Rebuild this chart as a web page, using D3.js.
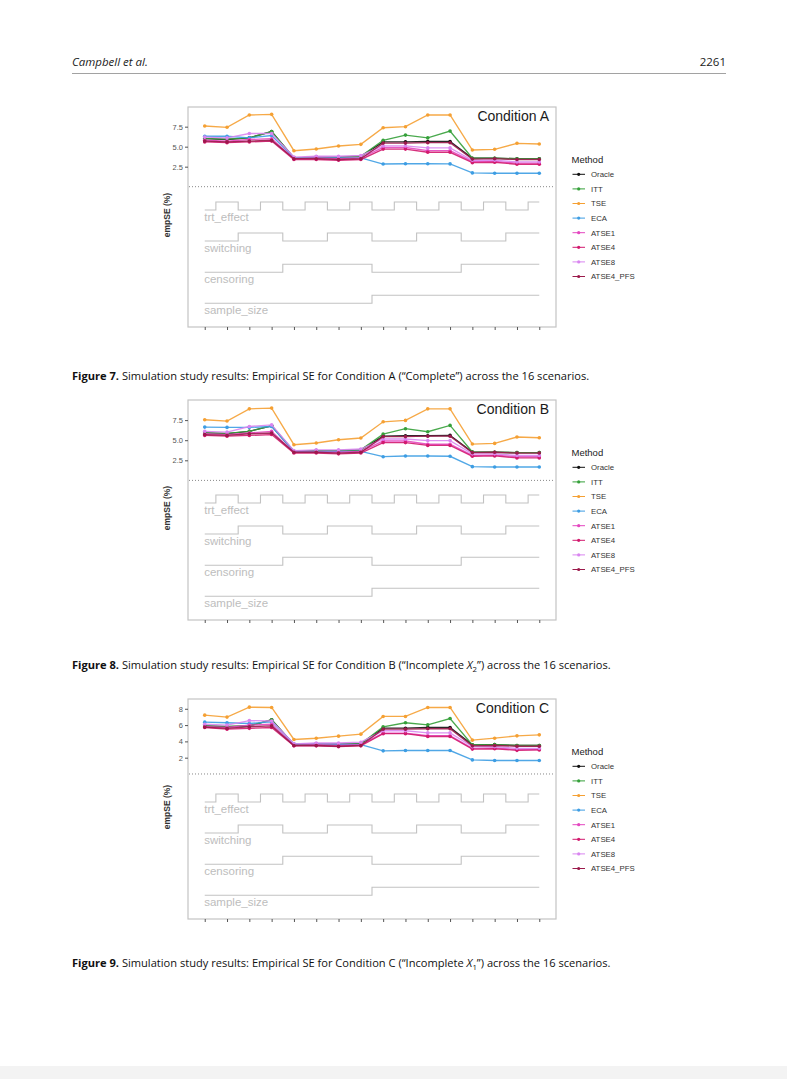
<!DOCTYPE html>
<html><head><meta charset="utf-8">
<script src="https://cdn.jsdelivr.net/npm/d3@7"></script>
<style>html,body{margin:0;padding:0;background:#fff;}svg{display:block;}</style>
</head><body>
<script>
// ---------- data ----------
const scenarios = d3.range(1, 17);
const methods = ["Oracle", "ITT", "TSE", "ECA", "ATSE1", "ATSE4", "ATSE8", "ATSE4_PFS"];
const methodColors = ["#111111", "#35a03a", "#f5a033", "#3d9de3", "#e447c0", "#d21a6e", "#d985f0", "#9b1a4b"];

// design parameters (0 = low level, 1 = high level)
const paramNames = ["trt_effect", "switching", "censoring", "sample_size"];
const trtEffect  = [0,1,0,1,0,1,0,1,0,1,0,1,0,1,0,1];
const switching  = [0,0,1,1,0,0,1,1,0,0,1,1,0,0,1,1];
const censoring  = [0,0,0,0,1,1,1,1,0,0,0,0,1,1,1,1];
const sampleSize = [0,0,0,0,0,0,0,0,1,1,1,1,1,1,1,1];

// Condition A (Complete)
const A_Oracle   = [6.0,5.9,6.1,6.9,3.6,3.7,3.7,3.8,5.6,5.6,5.65,5.65,3.55,3.55,3.5,3.5];
const A_ITT      = [6.0,5.95,6.1,6.9,3.6,3.7,3.7,3.8,5.8,6.45,6.1,6.95,3.55,3.55,3.5,3.5];
const A_TSE      = [7.58,7.42,8.96,9.04,4.5,4.71,5.08,5.29,7.37,7.5,8.96,8.96,4.58,4.67,5.42,5.33];
const A_ECA      = [6.3,6.3,6.1,6.4,3.6,3.6,3.6,3.6,2.83,2.87,2.87,2.85,1.72,1.68,1.68,1.68];
const A_ATSE1    = [5.8,5.7,5.9,6.0,3.5,3.6,3.5,3.6,4.9,4.9,4.5,4.5,3.15,3.15,2.95,2.95];
const A_ATSE4    = [5.6,5.5,5.6,5.7,3.4,3.4,3.3,3.4,4.7,4.7,4.3,4.3,3.0,3.05,2.8,2.8];
const A_ATSE8    = [6.2,6.1,6.65,6.65,3.7,3.8,3.8,3.9,5.1,5.1,4.85,4.85,3.3,3.3,3.1,3.1];
const A_ATSE4PFS = [5.7,5.6,5.7,5.8,3.5,3.5,3.4,3.5,5.45,5.45,5.5,5.5,3.45,3.5,3.4,3.4];

// Condition B (Incomplete X2)
const B_Oracle   = [5.9,5.8,6.1,6.8,3.6,3.7,3.7,3.8,5.5,5.55,5.55,5.6,3.53,3.5,3.45,3.45];
const B_ITT      = [5.9,5.85,6.1,6.8,3.6,3.7,3.7,3.8,5.76,6.43,6.05,6.84,3.53,3.5,3.45,3.45];
const B_TSE      = [7.54,7.38,8.9,8.99,4.44,4.65,5.06,5.27,7.29,7.46,8.9,8.9,4.52,4.6,5.4,5.31];
const B_ECA      = [6.63,6.59,6.59,6.7,3.6,3.6,3.6,3.6,2.95,3.04,3.04,3.0,1.71,1.67,1.67,1.67];
const B_ATSE1    = [5.8,5.7,5.9,6.1,3.5,3.5,3.5,3.6,4.9,4.9,4.5,4.5,3.1,3.15,2.95,2.95];
const B_ATSE4    = [5.6,5.5,5.6,5.7,3.4,3.4,3.3,3.4,4.7,4.7,4.35,4.35,3.0,3.05,2.8,2.8];
const B_ATSE8    = [6.1,6.0,6.7,6.9,3.7,3.8,3.8,3.9,5.15,5.15,4.95,4.95,3.3,3.3,3.1,3.1];
const B_ATSE4PFS = [5.7,5.6,5.8,5.9,3.5,3.5,3.4,3.5,5.45,5.45,5.5,5.5,3.45,3.5,3.4,3.4];

// Condition C (Incomplete X1)
const C_Oracle   = [5.9,5.8,5.9,6.65,3.6,3.7,3.7,3.7,5.62,5.62,5.7,5.7,3.57,3.6,3.5,3.5];
const C_ITT      = [5.9,5.85,5.9,6.65,3.6,3.7,3.7,3.7,5.79,6.28,6.03,6.81,3.57,3.6,3.5,3.5];
const C_TSE      = [7.22,6.98,8.2,8.16,4.23,4.39,4.64,4.89,7.06,7.06,8.16,8.16,4.15,4.39,4.68,4.8];
const C_ECA      = [6.36,6.28,6.2,6.4,3.7,3.7,3.65,3.6,2.84,2.88,2.88,2.88,1.73,1.65,1.65,1.65];
const C_ATSE1    = [5.8,5.7,6.0,6.1,3.5,3.6,3.5,3.6,5.0,5.0,4.7,4.7,3.15,3.2,3.0,3.0];
const C_ATSE4    = [5.7,5.5,5.6,5.7,3.45,3.45,3.35,3.45,4.95,4.95,4.6,4.6,3.05,3.1,2.9,2.95];
const C_ATSE8    = [6.1,6.0,6.55,6.5,3.7,3.8,3.8,3.9,5.3,5.3,5.05,5.05,3.35,3.35,3.15,3.15];
const C_ATSE4PFS = [5.75,5.6,5.8,5.9,3.5,3.5,3.4,3.5,5.5,5.5,5.55,5.55,3.45,3.5,3.4,3.4];

const yTicksA = [2.5, 5.0, 7.5];
const yTicksB = [2.5, 5.0, 7.5];
const yTicksC = [2, 4, 6, 8];

const figures = [
  {cond:"Condition A", num:"7", series:[A_Oracle,A_ITT,A_TSE,A_ECA,A_ATSE1,A_ATSE4,A_ATSE8,A_ATSE4PFS], ticks:yTicksA, fmt:d3.format(".1f"), top:107, ymax:9.96, ppu:8.0, capY:380},
  {cond:"Condition B", num:"8", series:[B_Oracle,B_ITT,B_TSE,B_ECA,B_ATSE1,B_ATSE4,B_ATSE8,B_ATSE4PFS], ticks:yTicksB, fmt:d3.format(".1f"), top:400, ymax:10.0, ppu:8.04, capY:669},
  {cond:"Condition C", num:"9", series:[C_Oracle,C_ITT,C_TSE,C_ECA,C_ATSE1,C_ATSE4,C_ATSE8,C_ATSE4PFS], ticks:yTicksC, fmt:d3.format("d"), top:699, ymax:9.2, ppu:8.15, capY:967}
];

// ---------- drawing ----------
const W = 787, H = 1079;
const svg = d3.select("body").append("svg").attr("width", W).attr("height", H);
svg.append("rect").attr("width", W).attr("height", H).attr("fill", "#fff");
svg.append("rect").attr("x", 0).attr("y", 1066).attr("width", W).attr("height", 13).attr("fill", "#f3f3f3");

const pageFont = "'Open Sans', Lato, sans-serif";
const chartFont = "'Liberation Sans', Arial, sans-serif";

// header
svg.append("text").attr("x", 72).attr("y", 66).attr("font-family", pageFont).attr("font-style", "italic")
  .attr("font-size", 11.5).attr("fill", "#222").text("Campbell et al.");
svg.append("text").attr("x", 726).attr("y", 66).attr("text-anchor", "end").attr("font-family", pageFont)
  .attr("font-size", 11.5).attr("fill", "#222").text("2261");
svg.append("line").attr("x1", 72).attr("x2", 726).attr("y1", 73.5).attr("y2", 73.5).attr("stroke", "#8a8a8a").attr("stroke-width", 0.8);

const panelLeft = 188, panelRight = 556, panelH = 220;
const x = d3.scaleLinear().domain([0.25, 16.75]).range([panelLeft, panelRight]);
const params = [trtEffect, switching, censoring, sampleSize];
// pixel offsets (from panel top) of the low level of each parameter step
const stepLowOffset = [103, 134, 165.3, 196.3];
const stepHeight = 8;

figures.forEach(f => {
  const top = f.top, bottom = top + panelH;
  const y = d3.scaleLinear().domain([f.ymax - panelH / f.ppu, f.ymax]).range([bottom, top]);
  const g = svg.append("g");

  // panel border
  g.append("rect").attr("x", panelLeft).attr("y", top).attr("width", panelRight - panelLeft).attr("height", panelH)
    .attr("fill", "none").attr("stroke", "#c4c4c4").attr("stroke-width", 1.2);

  // y axis
  const yAxis = d3.axisLeft(y).tickValues(f.ticks).tickFormat(f.fmt).tickSize(3).tickPadding(2);
  const ya = g.append("g").attr("transform", `translate(${panelLeft},0)`).call(yAxis);
  ya.select(".domain").remove();
  ya.selectAll("line").attr("stroke", "#555");
  ya.selectAll("text").attr("font-family", chartFont).attr("font-size", 7.5).attr("fill", "#555");

  // x axis ticks only
  const xAxis = d3.axisBottom(x).tickValues(scenarios).tickFormat("").tickSize(3);
  const xa = g.append("g").attr("transform", `translate(0,${bottom})`).call(xAxis);
  xa.select(".domain").remove();
  xa.selectAll("line").attr("stroke", "#555");

  // y title
  g.append("text").attr("transform", `translate(170,${top + panelH / 2 - 2}) rotate(-90)`)
    .attr("text-anchor", "middle").attr("font-family", chartFont).attr("font-weight", "bold")
    .attr("font-size", 8.5).attr("fill", "#333").text("empSE (%)");

  // dotted zero line
  g.append("line").attr("x1", panelLeft + 1).attr("x2", panelRight - 1).attr("y1", y(0)).attr("y2", y(0))
    .attr("stroke", "#7a7a7a").attr("stroke-width", 0.9).attr("stroke-dasharray", "1,2");

  // parameter steps
  params.forEach((p, k) => {
    const sy = d3.scaleLinear().domain([0, 1]).range([top + stepLowOffset[k], top + stepLowOffset[k] - stepHeight]);
    const line = d3.line().x((d, i) => x(scenarios[i])).y(d => sy(d)).curve(d3.curveStep);
    g.append("path").attr("d", line(p)).attr("fill", "none").attr("stroke", "#c2c2c2").attr("stroke-width", 1.1);
    g.append("text").attr("x", x(1) - 0.5).attr("y", sy(0) + 10.5).attr("font-family", chartFont)
      .attr("font-size", 11.5).attr("fill", "#bdbdbd").text(paramNames[k]);
  });

  // method lines & points
  const line = d3.line().x((d, i) => x(scenarios[i])).y(d => y(d));
  f.series.forEach((s, m) => {
    g.append("path").attr("d", line(s)).attr("fill", "none").attr("stroke", methodColors[m])
      .attr("stroke-width", 1.35).attr("stroke-opacity", 0.9);
    g.selectAll(null).data(s).enter().append("circle")
      .attr("cx", (d, i) => x(scenarios[i])).attr("cy", d => y(d)).attr("r", 1.8)
      .attr("fill", methodColors[m]);
  });

  // condition label
  g.append("text").attr("x", 549).attr("y", top + 14).attr("text-anchor", "end")
    .attr("font-family", chartFont).attr("font-size", 14).attr("fill", "#1a1a1a").text(f.cond);

  // legend
  const lg = g.append("g");
  lg.append("text").attr("x", 571.5).attr("y", top + 55.5).attr("font-family", chartFont)
    .attr("font-size", 9.5).attr("fill", "#222").text("Method");
  methods.forEach((mname, i) => {
    const cy = top + 67.3 + i * 14.6;
    lg.append("line").attr("x1", 572.5).attr("x2", 585).attr("y1", cy).attr("y2", cy)
      .attr("stroke", methodColors[i]).attr("stroke-width", 1);
    lg.append("circle").attr("cx", 578.7).attr("cy", cy).attr("r", 1.6).attr("fill", methodColors[i]);
    lg.append("text").attr("x", 591).attr("y", cy + 2.8).attr("font-family", chartFont)
      .attr("font-size", 7.8).attr("fill", "#333").text(mname);
  });

  // caption
  const cap = svg.append("text").attr("x", 72).attr("y", f.capY).attr("font-family", pageFont)
    .attr("font-size", 11.1).attr("fill", "#111");
  cap.append("tspan").attr("font-weight", "bold").text(`Figure  ${f.num}.`);
  if (f.num === "7") {
    cap.append("tspan").text("  Simulation study results: Empirical SE for Condition A (\u201CComplete\u201D) across the 16 scenarios.");
  } else {
    const letter = f.num === "8" ? "B" : "C";
    const sub = f.num === "8" ? "2" : "1";
    cap.append("tspan").text(`  Simulation study results: Empirical SE for Condition ${letter} (\u201CIncomplete `);
    cap.append("tspan").attr("font-style", "italic").text("X");
    cap.append("tspan").attr("font-size", 7.8).attr("dy", 3).text(sub);
    cap.append("tspan").attr("dy", -3).text("\u201D) across the 16 scenarios.");
  }
});
</script>
</body></html>
